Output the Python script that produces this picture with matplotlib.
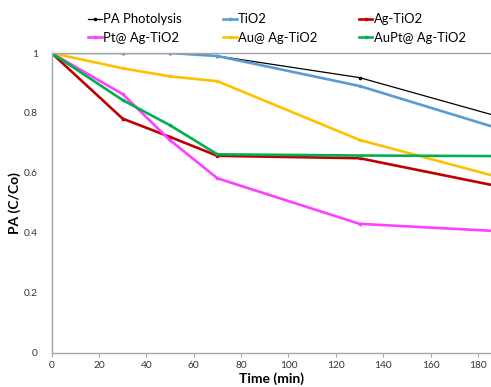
import matplotlib.pyplot as plt

time = [0, 30, 50, 70, 130, 190]
pa_photolysis = [1.0, 1.0, 1.0, 0.99, 0.918, 0.785]
tio2 = [1.0, 1.0, 1.0, 0.99, 0.89, 0.745]
ag_tio2 = [1.0, 0.781, 0.72, 0.657, 0.649, 0.553]
pt_ag_tio2 = [1.0, 0.863, 0.709, 0.582, 0.43, 0.405]
au_ag_tio2 = [1.0, 0.949, 0.922, 0.906, 0.71, 0.583]
aupt_ag_tio2 = [1.0, 0.843, 0.759, 0.662, 0.658, 0.656]

plt.rcParams['font.family'] = ['Lato', 'DejaVu Sans']

fig = plt.figure(figsize=(4.91, 3.87), dpi=100)
ax = fig.add_axes([0.105, 0.0886, 0.895, 0.7744])

series = [
    ('PA Photolysis', pa_photolysis, '#000000', 0.9),
    ('TiO2', tio2, '#5b9bd5', 1.9),
    ('Ag-TiO2', ag_tio2, '#c00000', 1.9),
    ('Pt@ Ag-TiO2', pt_ag_tio2, '#ff40ff', 1.9),
    ('Au@ Ag-TiO2', au_ag_tio2, '#ffc000', 1.9),
    ('AuPt@ Ag-TiO2', aupt_ag_tio2, '#00b050', 1.9),
]
lines = {}
for name, vals, col, lw in series:
    ln, = ax.plot(time, vals, color=col, lw=lw, marker='o', markersize=1.6,
                  label=name)
    lines[name] = ln

ax.set_xlim(0, 185.5)
ax.set_ylim(0, 1)
ax.set_xticks(range(0, 181, 20))
ax.set_yticks([0, 0.2, 0.4, 0.6, 0.8, 1])
ax.set_yticklabels(['0', '0.2', '0.4', '0.6', '0.8', '1'])
ax.tick_params(axis='x', length=3, width=0.8, color='#a6a6a6', labelsize=7.3,
               labelcolor='#333333', pad=3)
ax.tick_params(axis='y', length=0, labelsize=7.3, labelcolor='#333333', pad=10)
for s in ['left', 'bottom', 'top']:
    ax.spines[s].set_color('#a6a6a6')
    ax.spines[s].set_linewidth(1)
ax.spines['right'].set_visible(False)

ax.set_xlabel('Time (min)', fontsize=10, fontweight='bold', labelpad=2)
ax.set_ylabel('PA (C/Co)', fontsize=10, fontweight='bold', labelpad=2)

order = ['PA Photolysis', 'Pt@ Ag-TiO2', 'TiO2', 'Au@ Ag-TiO2',
         'Ag-TiO2', 'AuPt@ Ag-TiO2']
fig.legend([lines[n] for n in order], order, ncol=3, frameon=False,
           loc='upper left', bbox_to_anchor=(0.179, 0.966), fontsize=9.4,
           handlelength=1.05, handletextpad=0.12, columnspacing=3.15,
           labelspacing=0.5, borderaxespad=0, borderpad=0)

fig.savefig('out.png', dpi=100)
